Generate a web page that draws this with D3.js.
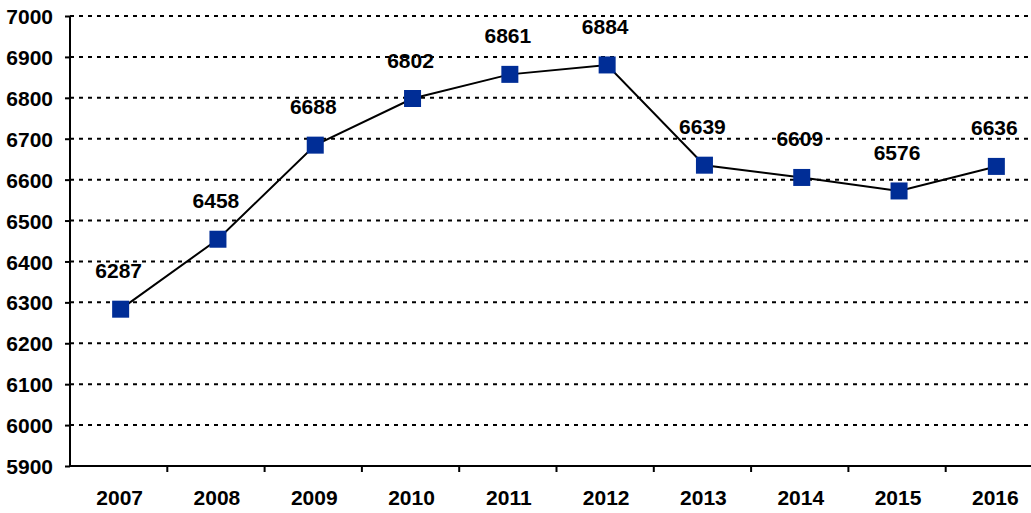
<!DOCTYPE html>
<html>
<head>
<meta charset="utf-8">
<script src="https://cdn.jsdelivr.net/npm/d3@7"></script>
<style>
  body { margin: 0; background: #fff; }
  svg { display: block; font-family: "Liberation Sans", Arial, sans-serif; }
</style>
</head>
<body>
<svg id="chart"></svg>
<script>
// data
const years = ["2007", "2008", "2009", "2010", "2011", "2012", "2013", "2014", "2015", "2016"];
const values = [6287, 6458, 6688, 6802, 6861, 6884, 6639, 6609, 6576, 6636];
const yTicks = [5900, 6000, 6100, 6200, 6300, 6400, 6500, 6600, 6700, 6800, 6900, 7000];

let width = 1031;
let height = 513;

// plot area (right edge runs past the window, as in the original)
let margin = { top: 16, left: 70, bottom: 466, right: 1043 };

let svg = d3.select("#chart")
    .attr("width", width)
    .attr("height", height);

let x = d3.scaleBand()
    .domain(years)
    .range([margin.left, margin.right])
    .padding(0);

let y = d3.scaleLinear()
    .domain([5900, 7000])
    .range([margin.bottom, margin.top]);

// marks sit a touch right/below the exact value in the original
let cx = d => x(d.year) + x.bandwidth() / 2 + 2;
let cy = d => y(d.value) + 1.5;

// dotted gridlines
svg.append("g")
    .selectAll("line")
    .data(yTicks.filter(d => d > 5900))
    .enter().append("line")
    .attr("x1", margin.left)
    .attr("x2", width)
    .attr("y1", d => y(d))
    .attr("y2", d => y(d))
    .attr("stroke", "#000")
    .attr("stroke-width", 2)
    .attr("stroke-dasharray", "4,5");

// y axis
let yAxis = svg.append("g")
    .attr("transform", `translate(${margin.left},0)`)
    .call(d3.axisLeft(y).tickValues(yTicks).tickSize(5).tickPadding(12).tickFormat(d3.format("d")));
yAxis.select(".domain").attr("stroke-width", 2).attr("d", `M0,${margin.top}V${margin.bottom}`);
yAxis.selectAll(".tick line").attr("stroke-width", 2);
yAxis.selectAll(".tick text")
    .attr("font-size", 21)
    .attr("font-weight", "bold")
    .attr("font-family", "Liberation Sans, Arial, sans-serif")
    .attr("fill", "#000")
    .attr("dy", "0.36em");

// x axis: ticks sit on band edges
let xAxis = svg.append("g")
    .attr("transform", `translate(0,${margin.bottom})`);
xAxis.append("line")
    .attr("x1", margin.left).attr("x2", width)
    .attr("stroke", "#000").attr("stroke-width", 2);
xAxis.selectAll(".xt")
    .data(years.slice(1))
    .enter().append("line")
    .attr("class", "xt")
    .attr("x1", d => x(d)).attr("x2", d => x(d))
    .attr("y1", 0).attr("y2", 6)
    .attr("stroke", "#000").attr("stroke-width", 2);
xAxis.selectAll(".xl")
    .data(years)
    .enter().append("text")
    .attr("class", "xl")
    .attr("x", d => x(d) + x.bandwidth() / 2 + 1)
    .attr("y", 39)
    .attr("text-anchor", "middle")
    .attr("font-size", 21)
    .attr("font-weight", "bold")
    .text(d => d);

let pts = years.map((d, i) => ({ year: d, value: values[i] }));

// line
svg.append("path")
    .datum(pts)
    .attr("fill", "none")
    .attr("stroke", "#000")
    .attr("stroke-width", 2)
    .attr("d", d3.line().x(cx).y(cy));

// square markers
svg.selectAll(".pt")
    .data(pts)
    .enter().append("rect")
    .attr("class", "pt")
    .attr("x", d => cx(d) - 8.5)
    .attr("y", d => cy(d) - 8.5)
    .attr("width", 17)
    .attr("height", 17)
    .attr("fill", "#002D96");

// value labels
svg.selectAll(".lbl")
    .data(pts)
    .enter().append("text")
    .attr("class", "lbl")
    .attr("x", d => cx(d) - 2)
    .attr("y", d => cy(d) - 31)
    .attr("text-anchor", "middle")
    .attr("font-size", 21)
    .attr("font-weight", "bold")
    .text(d => d.value);
</script>
</body>
</html>
